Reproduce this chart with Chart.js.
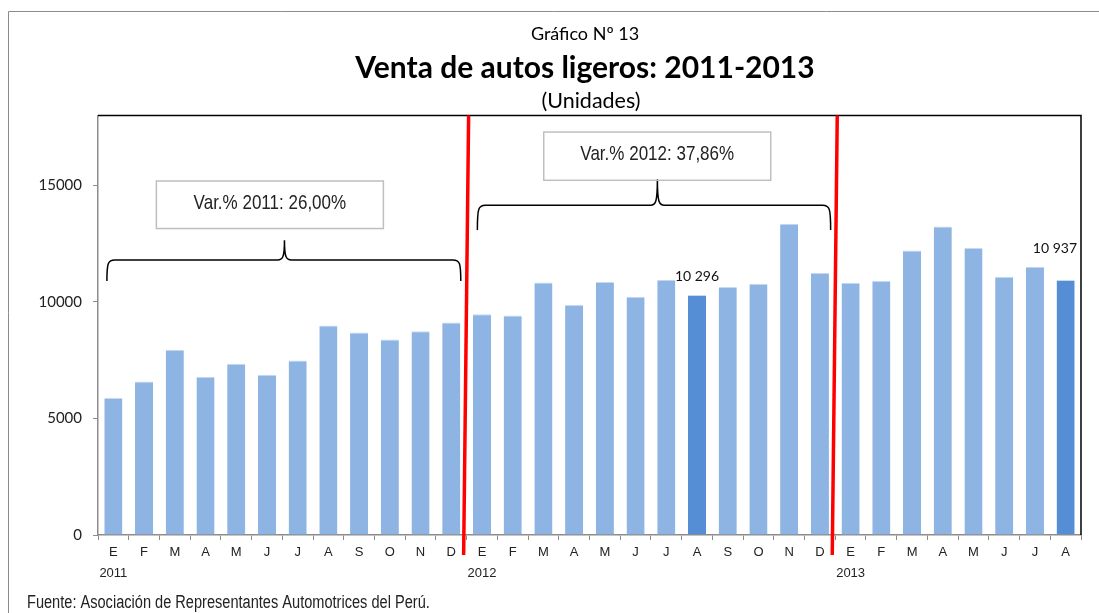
<!DOCTYPE html>
<html>
<head>
<meta charset="utf-8">
<script src="https://cdn.jsdelivr.net/npm/chart.js@4/dist/chart.umd.min.js"></script>
<style>
  html, body { margin: 0; background: #fff; }
  #wrap { width: 1099px; height: 613px; }
</style>
</head>
<body>
<div id="wrap"><canvas id="ventas" width="1099" height="613"></canvas></div>
<script>
// datos
var meses = ['E', 'F', 'M', 'A', 'M', 'J', 'J', 'A', 'S', 'O', 'N', 'D'];
var anios = ['2011', '2012', '2013'];
var ventas2011 = [5875, 6590, 7946, 6791, 7347, 6876, 7488, 8986, 8686, 8387, 8742, 9114];
var ventas2012 = [9470, 9414, 10839, 9872, 10856, 10227, 10954, 10296, 10642, 10783, 13350, 11241];
var ventas2013 = [10826, 10899, 12208, 13235, 12310, 11083, 11510, 10937];
var destacados = [19, 31];          // barras resaltadas (agosto 2012 y agosto 2013)
var yTicks = [0, 5000, 10000, 15000];
var notas = ['Var.% 2011: 26,00%', 'Var.% 2012: 37,86%'];

var FONT_NARROW = '"Liberation Sans Narrow", "Liberation Sans", Arial, sans-serif';
var FONT_CAL = 'Lato, "Open Sans", sans-serif';

// etiquetas: mes, y el año debajo del primer mes
var series = [ventas2011, ventas2012, ventas2013];
var labels = [];
var valores = [];
series.forEach(function (s, k) {
    s.forEach(function (v, i) {
        labels.push(i == 0 ? [meses[i], anios[k]] : meses[i]);
        valores.push(v);
    });
});
var colores = valores.map(function (v, i) {
    return destacados.indexOf(i) >= 0 ? '#558ED5' : '#8EB4E3';
});

function fmt(n) {
    return String(n).replace(/\B(?=(\d{3})+(?!\d))/g, ' ');
}

// texto "angosto": se comprime en horizontal
function textoAngosto(ctx, texto, x, y, size, align) {
    ctx.save();
    ctx.font = size + 'px ' + FONT_NARROW;
    ctx.textAlign = align;
    ctx.textBaseline = 'middle';
    ctx.translate(x, y);
    ctx.scale(0.81, 1);
    ctx.fillText(texto, 0, 0);
    ctx.restore();
}

function llave(ctx, x1, x2, xt, yb, ym, yt) {
    ctx.beginPath();
    ctx.moveTo(x1, yb);
    ctx.bezierCurveTo(x1, ym + 3, x1 + 1, ym, x1 + 8, ym);
    ctx.lineTo(xt - 7, ym);
    ctx.bezierCurveTo(xt - 2, ym, xt, ym - 2, xt, yt);
    ctx.bezierCurveTo(xt, ym - 2, xt + 2, ym, xt + 7, ym);
    ctx.lineTo(x2 - 8, ym);
    ctx.bezierCurveTo(x2 - 1, ym, x2, ym + 3, x2, yb);
    ctx.stroke();
}

function caja(ctx, x1, y1, x2, y2, texto) {
    ctx.strokeStyle = '#BFBFBF';
    ctx.lineWidth = 1.5;
    ctx.strokeRect(x1, y1, x2 - x1, y2 - y1);
    ctx.fillStyle = '#222';
    textoAngosto(ctx, texto, (x1 + x2) / 2, (y1 + y2) / 2 - 2, 21, 'center');
}

var decorado = {
    id: 'decorado',
    beforeDraw: function (chart) {
        var ctx = chart.ctx;
        ctx.save();
        ctx.strokeStyle = '#8C8C8C';
        ctx.lineWidth = 1;
        ctx.beginPath();
        ctx.moveTo(8.5, 613);
        ctx.lineTo(8.5, 11.5);
        ctx.lineTo(1099, 11.5);
        ctx.stroke();
        ctx.restore();
    },
    afterDraw: function (chart) {
        var ctx = chart.ctx;
        var a = chart.chartArea;
        var xs = chart.scales.x, ys = chart.scales.y;
        function px(i) { return xs.getPixelForValue(0) + i * (xs.getPixelForValue(1) - xs.getPixelForValue(0)); }
        ctx.save();

        // titulos
        ctx.fillStyle = '#000';
        ctx.textAlign = 'center';
        ctx.textBaseline = 'middle';
        ctx.font = '18px ' + FONT_CAL;
        ctx.fillText('Gráfico Nº 13', 585, 34);
        ctx.font = 'bold 30px ' + FONT_CAL;
        ctx.fillText('Venta de autos ligeros: 2011-2013', 585, 68);
        ctx.font = '21.5px ' + FONT_CAL;
        ctx.fillText('(Unidades)', 591, 101);

        // borde superior y derecho del area
        ctx.strokeStyle = '#000';
        ctx.lineWidth = 1.5;
        ctx.beginPath();
        ctx.moveTo(a.left, a.top);
        ctx.lineTo(a.right, a.top);
        ctx.lineTo(a.right, a.bottom);
        ctx.stroke();

        // etiquetas de datos
        ctx.fillStyle = '#111';
        ctx.font = '14px ' + FONT_CAL;
        var m = chart.getDatasetMeta(0);
        var b1 = m.data[destacados[0]];
        ctx.textAlign = 'center';
        ctx.fillText(fmt(valores[destacados[0]]), b1.x, b1.y - 19);
        var b2 = m.data[destacados[1]];
        ctx.textAlign = 'right';
        ctx.fillText(fmt(valores[destacados[1]]), a.right - 4, b2.y - 32);

        // llaves y cajas
        ctx.strokeStyle = '#000';
        ctx.lineWidth = 1.5;
        llave(ctx, px(-0.21), px(11.31), px(5.57), ys.getPixelForValue(10900), ys.getPixelForValue(11800), ys.getPixelForValue(12650));
        llave(ctx, px(11.85), px(23.35), px(17.71), ys.getPixelForValue(13090), ys.getPixelForValue(14150), ys.getPixelForValue(15260));
        caja(ctx, px(1.4), ys.getPixelForValue(15190), px(8.79), ys.getPixelForValue(13150), notas[0]);
        caja(ctx, px(14.01), ys.getPixelForValue(17290), px(21.4), ys.getPixelForValue(15220), notas[1]);

        // lineas rojas entre años
        ctx.strokeStyle = '#FF0000';
        ctx.lineWidth = 3.5;
        [11.5, 23.5].forEach(function (i) {
            var x = px(i);
            ctx.beginPath();
            ctx.moveTo(x + 2, a.top);
            ctx.lineTo(x - 3, a.bottom + 20);
            ctx.stroke();
        });

        // fuente
        ctx.fillStyle = '#222';
        textoAngosto(ctx, 'Fuente: Asociación de Representantes Automotrices del Perú.', 27, 603, 18, 'left');
        ctx.restore();
    }
};

const ctx = document.getElementById('ventas');
const grafico = new Chart(ctx, {
    type: 'bar',
    data: {
        labels: labels,
        datasets: [{
            label: 'Venta de autos ligeros',
            data: valores,
            backgroundColor: colores,
            borderColor: '#C6D9F1',
            borderWidth: { top: 1, left: 0, right: 0, bottom: 0 },
            categoryPercentage: 1,
            barPercentage: 0.59
        }]
    },
    options: {
        responsive: false,
        animation: false,
        layout: { padding: { left: 0, right: 18, top: 115.5, bottom: 33 } },
        plugins: {
            legend: { display: false },
            tooltip: { enabled: false },
            title: { display: false }
        },
        scales: {
            x: {
                grid: { drawOnChartArea: false, drawTicks: true, tickLength: 5, color: '#8C8C8C', offset: true },
                border: { color: '#8C8C8C', width: 1.5 },
                ticks: {
                    color: '#222',
                    font: { family: FONT_NARROW, size: 13, lineHeight: 1.6 },
                    padding: 2,
                    maxRotation: 0,
                    autoSkip: false
                },
                afterFit: function (s) { s.height = 45; }
            },
            y: {
                min: 0,
                max: 18000,
                afterBuildTicks: function (s) {
                    s.ticks = yTicks.map(function (v) { return { value: v }; });
                },
                grid: { drawOnChartArea: false, drawTicks: true, tickLength: 5, color: '#8C8C8C' },
                border: { color: '#8C8C8C', width: 1.5 },
                ticks: {
                    color: '#222',
                    font: { family: FONT_CAL, size: 15 },
                    padding: 11,
                    callback: function (v) { return String(v); }
                },
                afterFit: function (s) { s.width = 98; }
            }
        }
    },
    plugins: [decorado]
});
</script>
</body>
</html>
